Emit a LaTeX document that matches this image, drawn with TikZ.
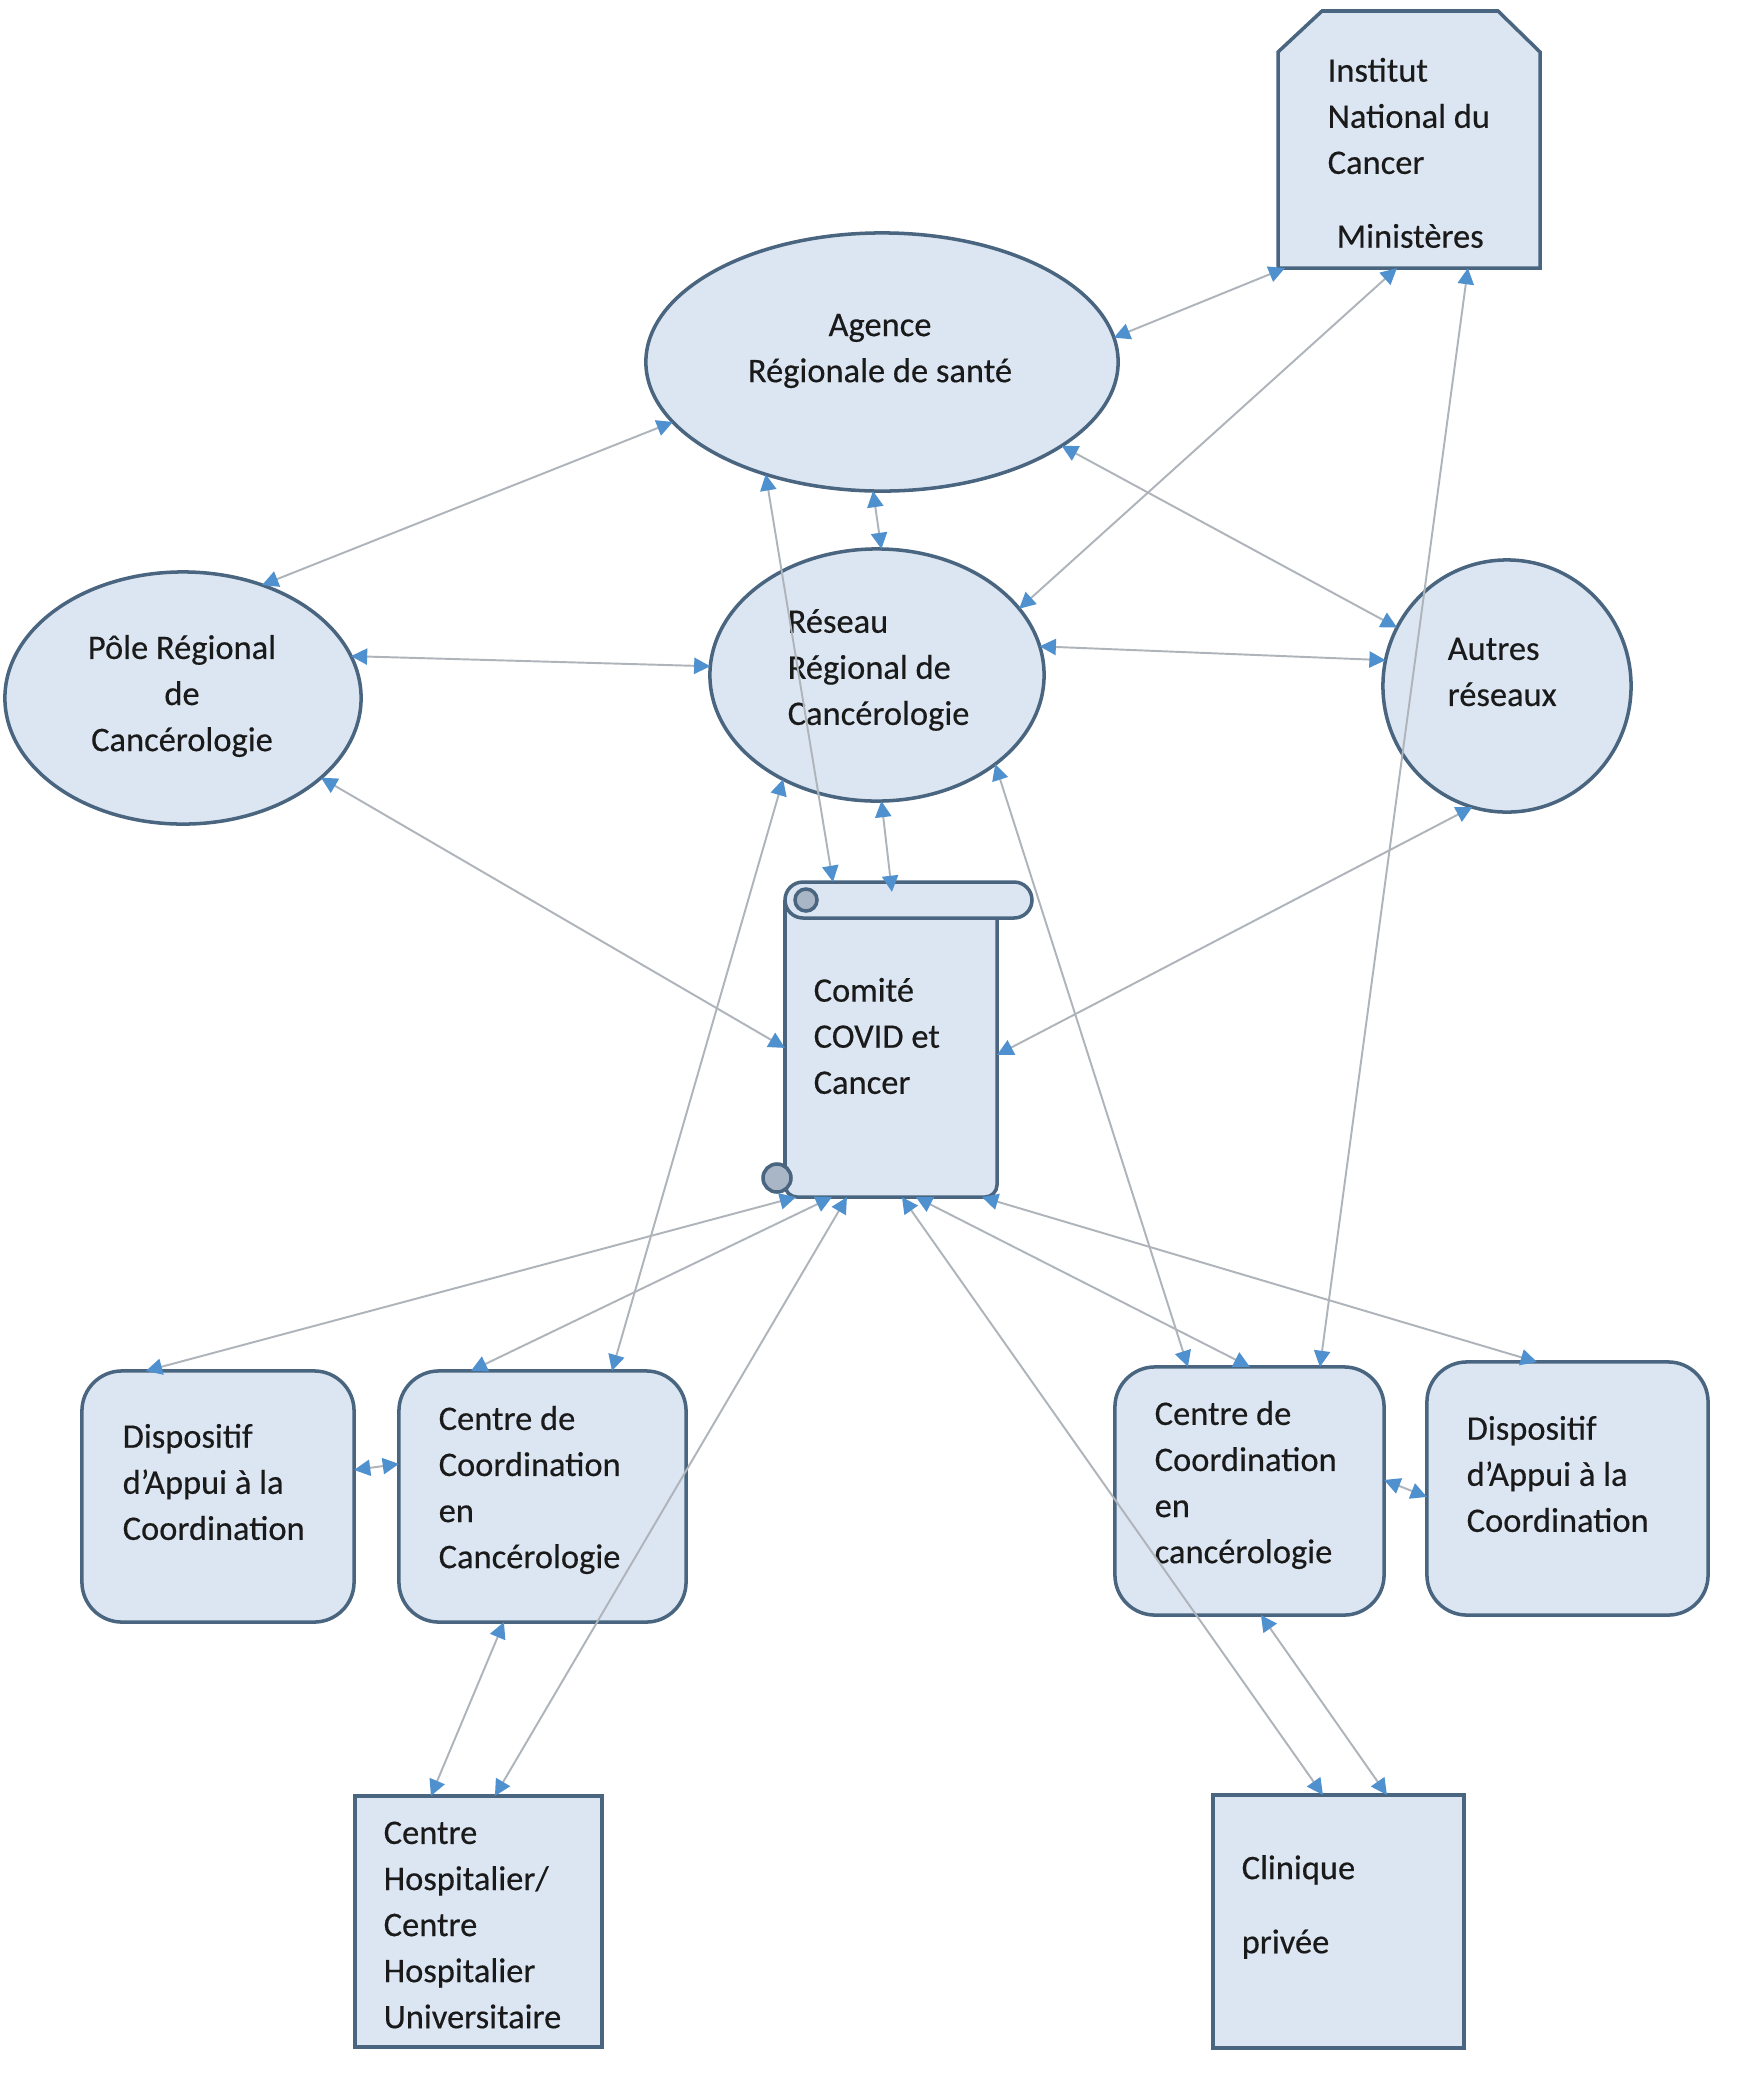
\documentclass[tikz,border=0pt]{standalone}
\usepackage{fontspec}
\setmainfont{Carlito}
\newfontfamily\lblfont{Carlito}[FakeBold=0.35]
\usetikzlibrary{shapes.geometric,arrows.meta,calc}
\definecolor{boxfill}{HTML}{DCE6F2}
\definecolor{boxline}{HTML}{4A6580}
\definecolor{lnk}{HTML}{AEB4BA}
\definecolor{tipc}{HTML}{4F90CF}
\definecolor{curlc}{HTML}{A8B6C6}
\definecolor{txt}{HTML}{1A1A1A}
\begin{document}
\begin{tikzpicture}[x=0.01cm,y=-0.01cm,
  shapebox/.style={draw=boxline,fill=boxfill,line width=1pt},
  oval/.style={shapebox,ellipse,inner sep=0pt,outer sep=0pt},
  rbox/.style={shapebox,rectangle,rounded corners=0.4cm,inner sep=0pt,outer sep=0pt},
  sbox/.style={shapebox,rectangle,inner sep=0pt,outer sep=0pt},
  ghost/.style={rectangle,inner sep=0pt,outer sep=0pt},
  lbl/.style={inner sep=0pt,font=\lblfont\fontsize{9.8}{13.1}\selectfont,text=txt},
  link/.style={draw=lnk,line width=0.55pt,{Triangle[color=tipc,length=4.6pt,width=4.6pt]}-{Triangle[color=tipc,length=4.6pt,width=4.6pt]}},
]
\useasboundingbox[fill=white] (0,0) rectangle (1748,2081);

% Institut National du Cancer / Ministeres
\draw[shapebox] (1278,52) -- (1322,11) -- (1498,11) -- (1540,52) -- (1540,268) -- (1278,268) -- cycle;
\node[ghost,minimum width=2.62cm,minimum height=2.57cm] (inc) at (1409,139.5) {};

% ellipses
\node[oval,minimum width=4.72cm,minimum height=2.58cm] (ars) at (882,362) {};
\node[oval,minimum width=3.56cm,minimum height=2.52cm] (pole) at (183,698) {};
\node[oval,minimum width=3.34cm,minimum height=2.52cm] (res) at (877,675) {};
\node[oval,minimum width=2.48cm,minimum height=2.52cm] (aut) at (1507,686) {};

% scroll (Comite)
\draw[shapebox,rounded corners=0.12cm] (785,900) -- (785,1197) -- (997,1197) -- (997,905);
\draw[shapebox,rounded corners=0.18cm] (785,882) rectangle (1032,918);
\draw[draw=boxline,fill=curlc,line width=1pt] (806,900) circle[radius=0.11cm];
\draw[draw=boxline,fill=curlc,line width=1pt] (777,1178) circle[radius=0.14cm];
\node[ghost,minimum width=2.12cm,minimum height=3.15cm] (com) at (891,1039.5) {};

% boxes
\node[rbox,minimum width=2.72cm,minimum height=2.51cm] (dacL) at (218,1496.5) {};
\node[rbox,minimum width=2.87cm,minimum height=2.51cm] (cccL) at (542.5,1496.5) {};
\node[rbox,minimum width=2.69cm,minimum height=2.48cm] (cccR) at (1249.5,1491) {};
\node[rbox,minimum width=2.81cm,minimum height=2.53cm] (dacR) at (1567.5,1488.5) {};
\node[sbox,minimum width=2.47cm,minimum height=2.51cm] (chu) at (478.5,1921.5) {};
\node[sbox,minimum width=2.51cm,minimum height=2.53cm] (cli) at (1338.5,1921.5) {};

% texts
\node[lbl,align=center] (tArs) at (880,351) {Agence\\Régionale de santé};
\node[lbl,align=left,anchor=west] (tInc) at (1327,116) {Institut\\National du\\Cancer};
\node[lbl,anchor=west] (tMin) at (1336,236) {Ministères};
\node[lbl,align=center] (tPole) at (182,696) {Pôle Régional\\de\\Cancérologie};
\node[lbl,align=left,anchor=west] (tRes) at (787,670) {Réseau\\Régional de\\Cancérologie};
\node[lbl,align=left,anchor=west] (tAut) at (1447,672) {Autres\\réseaux};
\node[lbl,align=left,anchor=west] (tCom) at (813,1036) {Comité\\COVID et\\Cancer};
\node[lbl,align=left,anchor=west] (tDacL) at (122,1482) {Dispositif\\d’Appui à la\\Coordination};
\node[lbl,align=left,anchor=west] (tCccL) at (438,1490) {Centre de\\Coordination\\en\\Cancérologie};
\node[lbl,align=left,anchor=west] (tCccR) at (1154,1485) {Centre de\\Coordination\\en\\cancérologie};
\node[lbl,align=left,anchor=west] (tDacR) at (1466,1474) {Dispositif\\d’Appui à la\\Coordination};
\node[lbl,align=left,anchor=west] (tChu) at (383,1925) {Centre\\Hospitalier/\\Centre\\Hospitalier\\Universitaire};
\node[lbl,align=left,anchor=west] (tCli) at (1241,1907) {Clinique\\[0.28cm]privée};

% connectors
\draw[link] (ars.6) -- ($(inc.south west)+(7,0)$);
\draw[link] ($(inc.south west)+(119,0)$) -- (res.25);
\draw[link] ($(inc.south west)+(190,0)$) -- ($(cccR.north west)+(205,0)$);
\draw[link] (ars.196) -- (pole.55);
\draw[link] (ars.224) -- ($(com.north west)+(48,0)$);
\draw[link] (ars.266) -- (res.88);
\draw[link] (ars.-25) -- (aut.152);
\draw[link] (pole.14) -- (res.177);
\draw[link] (res.10) -- (aut.168);
\draw[link] (pole.-30) -- ($(com.north west)+(0,166)$);
\draw[link] (res.228) -- ($(cccL.north west)+(213,0)$);
\draw[link] (res.272) -- ($(com.north west)+(107,10)$);
\draw[link] (res.323) -- ($(cccR.north west)+(73,0)$);
\draw[link] (aut.254) -- ($(com.north east)+(0,173)$);
\draw[link] ($(com.south west)+(11,0)$) -- ($(dacL.north west)+(64,0)$);
\draw[link] ($(com.south west)+(47,0)$) -- ($(cccL.north west)+(72,0)$);
\draw[link] ($(com.south west)+(62,0)$) -- ($(chu.north west)+(140,0)$);
\draw[link] ($(com.south west)+(117,0)$) -- ($(cli.north west)+(110,0)$);
\draw[link] ($(com.south west)+(131,0)$) -- ($(cccR.north west)+(135,0)$);
\draw[link] ($(com.south west)+(197,0)$) -- ($(dacR.north west)+(110,0)$);
\draw[link] ($(dacL.north east)+(0,99)$) -- ($(cccL.north west)+(0,93)$);
\draw[link] ($(cccR.north east)+(0,113)$) -- ($(dacR.north west)+(0,135)$);
\draw[link] ($(cccL.south west)+(105,0)$) -- ($(chu.north west)+(76,0)$);
\draw[link] ($(cccR.south west)+(146,0)$) -- ($(cli.north west)+(174,0)$);
\end{tikzpicture}
\end{document}
